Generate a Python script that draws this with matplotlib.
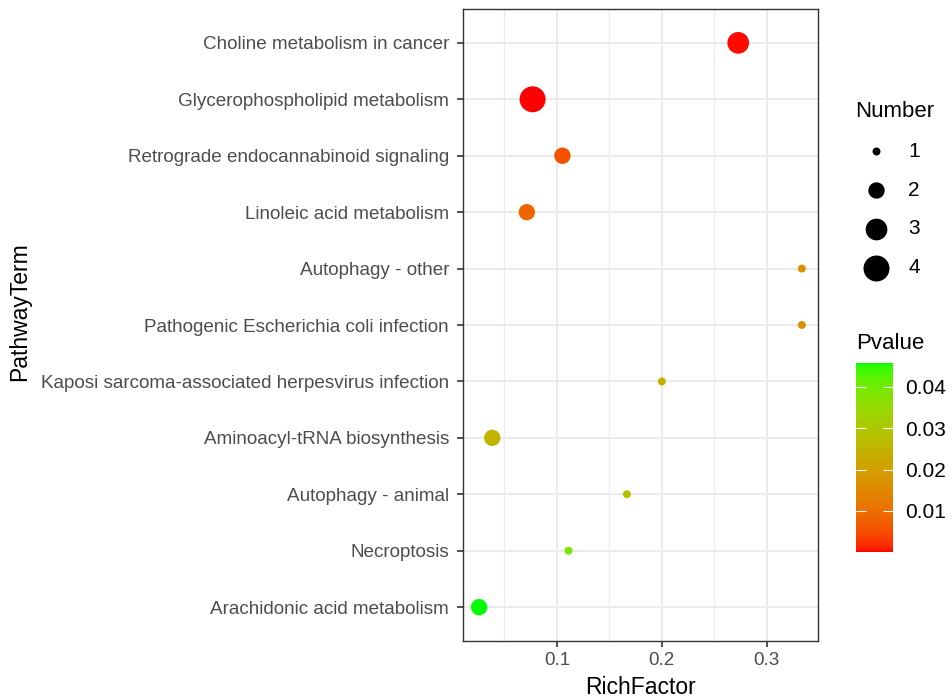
import numpy as np
import matplotlib
matplotlib.use('Agg')
import matplotlib.pyplot as plt
from matplotlib.colors import ListedColormap, Normalize
from matplotlib.ticker import MultipleLocator

plt.rcParams['font.family'] = ['Liberation Sans', 'DejaVu Sans']

pathways = [
    'Choline metabolism in cancer',
    'Glycerophospholipid metabolism',
    'Retrograde endocannabinoid signaling',
    'Linoleic acid metabolism',
    'Autophagy - other',
    'Pathogenic Escherichia coli infection',
    'Kaposi sarcoma-associated herpesvirus infection',
    'Aminoacyl-tRNA biosynthesis',
    'Autophagy - animal',
    'Necroptosis',
    'Arachidonic acid metabolism',
]
rich_factor = [0.2727, 0.0769, 0.1053, 0.0714, 0.3333, 0.3333, 0.2000, 0.0385, 0.1667, 0.1111, 0.0260]
number = [3, 4, 2, 2, 1, 1, 1, 2, 1, 1, 2]
pvalue = [0.0004, 0.0001, 0.0055, 0.0085, 0.0160, 0.0160, 0.0240, 0.0255, 0.0280, 0.0385, 0.0457]
size_levels = [1, 2, 3, 4]
pvalue_ticks = [0.01, 0.02, 0.03, 0.04]


# red -> green gradient interpolated in CIE Lab, like scale_colour_gradient
def _srgb_to_lab(rgb):
    rgb = np.asarray(rgb, float)
    lin = np.where(rgb <= 0.04045, rgb / 12.92, ((rgb + 0.055) / 1.055) ** 2.4)
    m = np.array([[0.4124, 0.3576, 0.1805],
                  [0.2126, 0.7152, 0.0722],
                  [0.0193, 0.1192, 0.9505]])
    xyz = m @ lin / np.array([0.95047, 1.0, 1.08883])
    f = np.where(xyz > 0.008856, np.cbrt(xyz), 7.787 * xyz + 16 / 116)
    return np.array([116 * f[1] - 16, 500 * (f[0] - f[1]), 200 * (f[1] - f[2])])


def _lab_to_srgb(lab):
    L, a, b = lab
    fy = (L + 16) / 116
    f = np.array([fy + a / 500, fy, fy - b / 200])
    xyz = np.where(f ** 3 > 0.008856, f ** 3, (f - 16 / 116) / 7.787)
    xyz = xyz * np.array([0.95047, 1.0, 1.08883])
    m = np.array([[3.2406, -1.5372, -0.4986],
                  [-0.9689, 1.8758, 0.0415],
                  [0.0557, -0.2040, 1.0570]])
    lin = m @ xyz
    rgb = np.where(lin <= 0.0031308, 12.92 * lin, 1.055 * np.clip(lin, 0, None) ** (1 / 2.4) - 0.055)
    return np.clip(rgb, 0, 1)


lab_lo = _srgb_to_lab([1, 0, 0])
lab_hi = _srgb_to_lab([0, 1, 0])
cmap = ListedColormap([_lab_to_srgb(lab_lo + t * (lab_hi - lab_lo)) for t in np.linspace(0, 1, 256)])
norm = Normalize(vmin=min(pvalue), vmax=max(pvalue))


def point_size(n):
    # area scaled linearly between the smallest and largest count
    return 33 + (n - 1) / 3 * (350 - 33)


W, H = 952, 699
fig = plt.figure(figsize=(W / 100, H / 100), dpi=100)
ax = fig.add_axes([463 / W, (H - 641) / H, (818 - 463) / W, (641 - 9) / H])

ypos = np.arange(len(pathways))[::-1]
ax.scatter(rich_factor, ypos, s=[point_size(n) for n in number],
           c=pvalue, cmap=cmap, norm=norm, zorder=3, linewidths=0)

ax.set_yticks(ypos)
ax.set_yticklabels(pathways)
ax.set_ylim(-0.6, len(pathways) - 0.4)
span = max(rich_factor) - min(rich_factor)
ax.set_xlim(min(rich_factor) - 0.05 * span, max(rich_factor) + 0.05 * span)
ax.xaxis.set_major_locator(MultipleLocator(0.1))
ax.xaxis.set_minor_locator(MultipleLocator(0.05))
ax.xaxis.set_major_formatter(matplotlib.ticker.FormatStrFormatter('%.1f'))

ax.grid(True, which='major', color='#EBEBEB', linewidth=1.4, zorder=0)
ax.grid(True, which='minor', axis='x', color='#EBEBEB', linewidth=0.8, zorder=0)
ax.set_axisbelow(True)
for sp in ax.spines.values():
    sp.set_color('#333333')
    sp.set_linewidth(1.0)
ax.tick_params(axis='both', which='major', color='#333333', length=4, width=1.2,
               labelcolor='#4D4D4D', labelsize=13.6, pad=4)
ax.tick_params(axis='y', pad=6)
ax.tick_params(axis='x', which='minor', length=0)

ax.set_xlabel('RichFactor', fontsize=16.5, labelpad=5)
fig.text(20 / W, 1 - 312 / H, 'PathwayTerm', rotation=90, fontsize=16.5,
         ha='center', va='center')

# size legend
handles = [ax.scatter([], [], s=point_size(n), c='black', linewidths=0) for n in size_levels]
leg = fig.legend(handles, [str(n) for n in size_levels], title='Number',
                 loc='upper left', bbox_to_anchor=(855 / W, 1 - 101 / H),
                 frameon=False, fontsize=15, title_fontsize=16,
                 labelspacing=0.95, handletextpad=0.55, borderaxespad=0,
                 borderpad=0)
leg._legend_box.align = 'left'

# colour bar
cax = fig.add_axes([856 / W, (H - 552) / H, 37 / W, (552 - 363) / H])
sm = matplotlib.cm.ScalarMappable(norm=norm, cmap=cmap)
cb = fig.colorbar(sm, cax=cax, ticks=pvalue_ticks)
cb.outline.set_visible(False)
cb.ax.set_yticklabels(['%.2f' % t for t in pvalue_ticks])
cb.ax.tick_params(direction='in', color='white', length=7, width=0.8,
                  left=True, right=True, labelsize=15, pad=9)
fig.text(856 / W, 1 - 343 / H, 'Pvalue', fontsize=16, ha='left', va='center')

fig.savefig('out.png', dpi=100, facecolor='white')
